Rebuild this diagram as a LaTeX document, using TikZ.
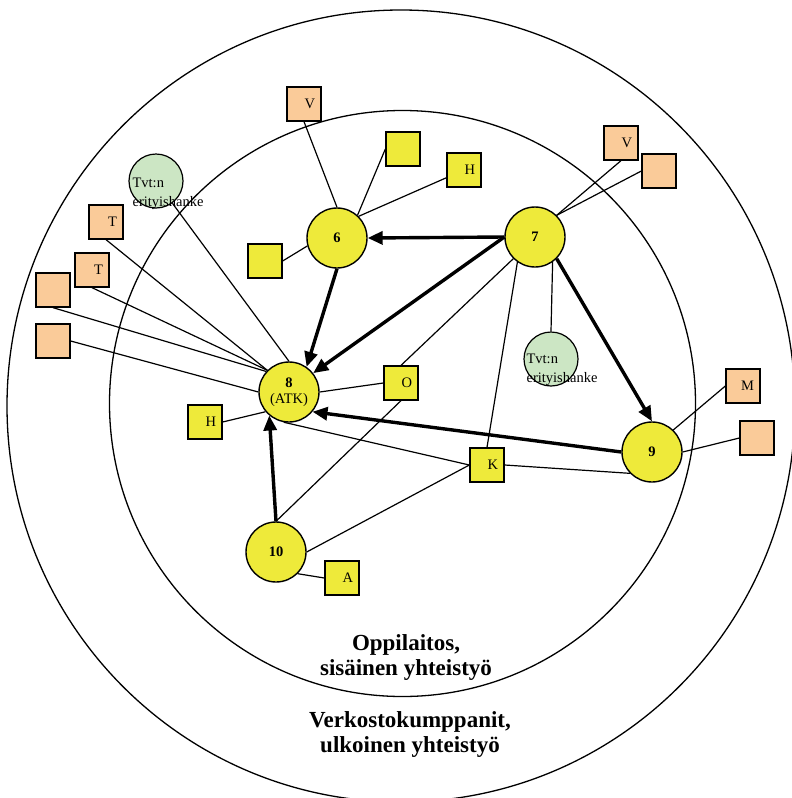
\documentclass[tikz,border=0pt]{standalone}
\usepackage{fontspec}
\setmainfont{Liberation Serif}
\usetikzlibrary{arrows.meta}

\definecolor{unityellow}{RGB}{238,234,58}
\definecolor{partnerorange}{RGB}{250,203,153}
\definecolor{projectgreen}{RGB}{204,230,196}

\tikzset{
    ring/.style={line width=1.3pt},
    unit/.style={circle, draw, line width=1.4pt, fill=unityellow, minimum size=60pt,
        inner sep=0pt, align=center, font=\fontsize{14.5}{16}\selectfont\bfseries},
    partner/.style={rectangle, draw, line width=1.3pt, minimum size=34pt, inner sep=0pt,
        text width=22pt, align=right, font=\fontsize{14.5}{16}\selectfont},
    intbox/.style={partner, fill=unityellow},
    extbox/.style={partner, fill=partnerorange},
    project/.style={circle, draw, line width=1.2pt, fill=projectgreen, minimum size=54pt},
    projtext/.style={anchor=west, align=left, inner sep=0pt, font=\fontsize{14.5}{19}\selectfont},
    link/.style={line width=1.2pt},
    flow/.style={line width=3.4pt, -{Triangle[length=15pt,width=13pt]}},
    caption/.style={align=center, font=\fontsize{23}{25}\selectfont\bfseries}
}

\begin{document}
\begin{tikzpicture}[x=1pt, y=-1pt]
    \useasboundingbox (0,0) rectangle (792,798);

    % Draw the two rings
    \draw[ring] (401,406) ellipse [x radius=394, y radius=396];
    \draw[ring] (402.5,403.5) circle [radius=293];

    % Units (numbered circles)
    \node[unit] (n6) at (337,238) {6};
    \node[unit] (n7) at (535,237) {7};
    \node[unit] (n8) at (289,392) {8\\\mdseries(ATK)};
    \node[unit] (n9) at (652,452) {9};
    \node[unit] (n10) at (276,552) {10};

    % Special projects
    \node[project] (g1) at (156,181) {};
    \node[projtext] (g1t) at ([xshift=4pt,yshift=-12.5pt]g1.west) {Tvt:n\\erityishanke};
    \node[project] (g2) at (551,359) {};
    \node[projtext] (g2t) at ([xshift=3pt,yshift=-11pt]g2.west) {Tvt:n\\erityishanke};

    % Internal partners (yellow boxes)
    \node[intbox] (y1) at (403,149) {};
    \node[intbox] (h1) at (464,170) {H};
    \node[intbox] (y2) at (265,261) {};
    \node[intbox] (h2) at (205,422) {H};
    \node[intbox] (o) at (401,383) {O};
    \node[intbox] (k) at (487,465) {K};
    \node[intbox] (a) at (342,578) {A};

    % External partners (orange boxes)
    \node[extbox] (v1) at (304,104) {V};
    \node[extbox] (v2) at (621,143) {V};
    \node[extbox] (e1) at (659,171) {};
    \node[extbox] (t1) at (106,222) {T};
    \node[extbox] (t2) at (92,270) {T};
    \node[extbox] (e2) at (53,290) {};
    \node[extbox] (e3) at (53,341) {};
    \node[extbox] (m) at (743,386) {M};
    \node[extbox] (e4) at (757,438) {};

    % Thin links round unit 6
    \draw[link] (v1.south) -- (n6.north);
    \draw[link] (y1.west) -- (n6.48);
    \draw[link] (h1) -- (n6.45);
    \draw[link] (y2.east) -- (n6.195);

    % Thin links round unit 7
    \draw[link] (v2.south) -- (n7.45);
    \draw[link] (e1.west) -- (n7.45);
    \draw[link] (n7.-55) -- (g2.north);
    \draw[link] (n7.225) -- (o.north);
    \draw[link] (n7.235) -- (k.north);

    % Thin links round unit 8
    \draw[link] (t1.south) -- (n8.135);
    \draw[link] (t2.south) -- (n8.135);
    \draw[link] (e2.south) -- (n8.138);
    \draw[link] (e3.east) -- (n8.west);
    \draw[link] (g1) -- (n8.north);
    \draw[link] (h2.east) -- (n8.220);
    \draw[link] (o.west) -- (n8.east);
    \draw[link] (n8.260) -- (k.west);

    % Thin links round units 9 and 10
    \draw[link] (o.south) -- (n10.north);
    \draw[link] (n10.east) -- (k.west);
    \draw[link] (n10.-45) -- (a.west);
    \draw[link] (k.east) -- (n9.224);
    \draw[link] (n9.46) -- (m.west);
    \draw[link] (n9.east) -- (e4.west);

    % Thick arrows between units
    \draw[flow] (n7.west) -- (n6.east);
    \draw[flow] (n6.south) -- (n8.55);
    \draw[flow] (n7.west) -- (n8.38);
    \draw[flow] (n7.-45) -- (n9.north);
    \draw[flow] (n9.west) -- (n8.-40);
    \draw[flow] (n10.north) -- (n8.230);

    % Ring captions
    \node[caption] (inner) at (406,657) {Oppilaitos,\\sisäinen yhteistyö};
    \node[caption] (outer) at (410,734) {Verkostokumppanit,\\ulkoinen yhteistyö};
\end{tikzpicture}
\end{document}
